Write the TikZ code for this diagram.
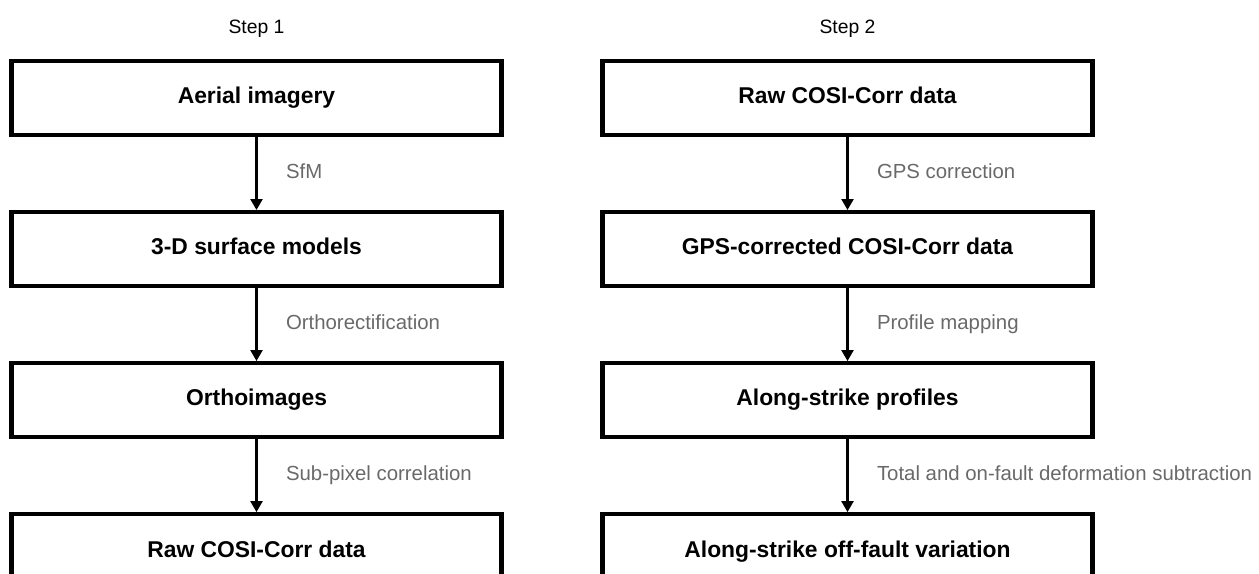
\documentclass[tikz,border=0pt]{standalone}
\usepackage{fontspec}
\setmainfont{Liberation Sans}
\usetikzlibrary{positioning, arrows.meta}
\definecolor{lblgray}{RGB}{105, 105, 105}
\tikzset{
    stepbox/.style={rectangle, draw, line width=2.3pt, minimum width=9.8cm, minimum height=1.48cm, text height=9.5pt, text depth=2.8pt, font=\fontsize{13}{15}\selectfont\bfseries},
    flow/.style={line width=1.3pt, -{Triangle[length=2.2mm, width=2.4mm]}},
    lbl/.style={right=0.45cm, text height=8.5pt, text depth=2.5pt, font=\fontsize{11.6}{14}\selectfont, text=lblgray},
    steplbl/.style={font=\fontsize{11}{13}\selectfont}
}

\begin{document}
\begin{tikzpicture}[node distance=1.46cm]
    \useasboundingbox (0,0) rectangle (25.18,-11.46);

    \node[steplbl] (step1) at (5.13,-0.58) {Step 1};
    \node[stepbox] (aerial) at (5.13,-1.96) {Aerial imagery};
    \node[stepbox, below=of aerial] (surf) {3-D surface models};
    \node[stepbox, below=of surf] (ortho) {Orthoimages};
    \node[stepbox, below=of ortho] (rawleft) {Raw COSI-Corr data};

    \draw[flow] (aerial) -- node[lbl] {SfM} (surf);
    \draw[flow] (surf) -- node[lbl] {Orthorectification} (ortho);
    \draw[flow] (ortho) -- node[lbl] {Sub-pixel correlation} (rawleft);

    \node[steplbl] (step2) at (16.95,-0.58) {Step 2};
    \node[stepbox] (rawright) at (16.95,-1.96) {Raw COSI-Corr data};
    \node[stepbox, below=of rawright] (gpscorr) {GPS-corrected COSI-Corr data};
    \node[stepbox, below=of gpscorr] (profiles) {Along-strike profiles};
    \node[stepbox, below=of profiles] (offfault) {Along-strike off-fault variation};

    \draw[flow] (rawright) -- node[lbl] {GPS correction} (gpscorr);
    \draw[flow] (gpscorr) -- node[lbl] {Profile mapping} (profiles);
    \draw[flow] (profiles) -- node[lbl] {Total and on-fault deformation subtraction} (offfault);
\end{tikzpicture}
\end{document}
